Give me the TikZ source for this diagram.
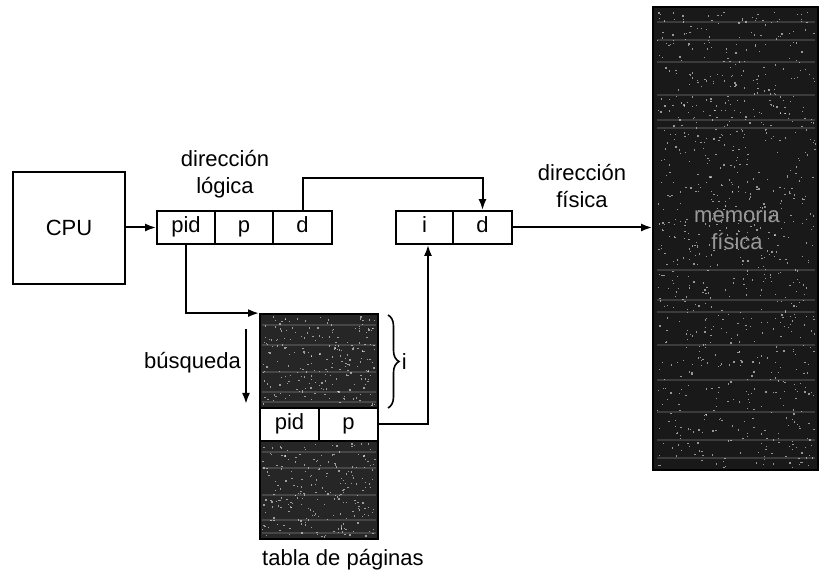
\documentclass[tikz,border=0pt]{standalone}
\usepackage{fontspec}
\setmainfont{Liberation Sans}
\usetikzlibrary{arrows.meta,decorations.pathreplacing}
\tikzset{
  box/.style={draw=black, line width=1.8pt, inner sep=0pt, fill=white},
  cell/.style={box, minimum height=33pt, font=\fontsize{22}{27}\selectfont, text height=15.5pt, text depth=4.5pt},
  darkbox/.style={draw=black, line width=1.8pt, inner sep=0pt, fill=black!85},
  arr/.style={line width=2pt, -{Latex[length=11pt,width=8pt]}},
  lbl/.style={font=\fontsize{22}{27}\selectfont, align=center, inner sep=0pt},
  streak/.style={line width=2.5pt, white, opacity=0.15},
  speck/.style={white, opacity=0.55}
}
\begin{document}
\begin{tikzpicture}[x=1pt,y=-1pt]
\useasboundingbox (0,0) rectangle (820,577);
\pgfmathsetseed{11}
% CPU
\node[box, minimum width=112pt, minimum height=112pt, lbl] (cpu) at (69,228) {CPU};
% logical address
\node[cell, minimum width=58pt] (pid) at (186,227.5) {pid};
\node[cell, minimum width=58pt] (p) at (244,227.5) {p};
\node[cell, minimum width=59pt] (d) at (302.5,227.5) {d};
% physical address
\node[cell, minimum width=57pt] (i) at (424.5,227.5) {i};
\node[cell, minimum width=59pt] (d2) at (482.5,227.5) {d};
% memory
\node[darkbox, fill=black!90, minimum width=165pt, minimum height=463pt] (mem) at (735.5,238.5) {};
\foreach \yy in {22,40,62,95,120,128,270,300,312,345,380,412,440,458}{
  \draw[streak] (657,\yy) -- (815,\yy);
}
\foreach \k in {1,...,900}{
  \pgfmathsetmacro\xx{657+158*rnd}
  \pgfmathsetmacro\yy{11+456*rnd}
  \fill[speck] (\xx,\yy) rectangle ++(1.3,1.3);
}
\node[lbl, text=black!40] (memtxt) at (737,228) {memoria\\física};
% page table
\node[darkbox, minimum width=118pt, minimum height=94pt] (pttop) at (319,361) {};
\node[cell, minimum width=59pt] (pid2) at (289.5,424.5) {pid};
\node[cell, minimum width=59pt] (p2) at (348.5,424.5) {p};
\node[darkbox, minimum width=118pt, minimum height=98pt] (ptbot) at (319,490) {};
\foreach \yy in {325,345,372,392,402}{
  \draw[streak] (262,\yy) -- (376,\yy);
}
\foreach \yy in {452,468,495,520,533}{
  \draw[streak] (262,\yy) -- (376,\yy);
}
\foreach \k in {1,...,220}{
  \pgfmathsetmacro\xx{262+113*rnd}
  \pgfmathsetmacro\yy{316+89*rnd}
  \fill[speck] (\xx,\yy) rectangle ++(1.3,1.3);
}
\foreach \k in {1,...,230}{
  \pgfmathsetmacro\xx{262+113*rnd}
  \pgfmathsetmacro\yy{443+94*rnd}
  \fill[speck] (\xx,\yy) rectangle ++(1.3,1.3);
}
% labels
\node[lbl] (dl) at (225,174) {dirección\\lógica};
\node[lbl] (df) at (582,186) {dirección\\física};
\node[lbl, anchor=east] (bus) at (241,363) {búsqueda};
\node[lbl, anchor=west] (tp) at (262,560) {tabla de páginas};
% connectors
\draw[arr] (cpu.east |- pid.west) -- (pid.west);
\draw[arr] (d.north) -- ++(0,-32) -| (d2.north);
\draw[arr] (d2.east) -- (mem.west |- d2.east);
\draw[arr] (pid.south) |- (pttop.north west);
\coordinate (turn) at (428,424.5);
\draw[arr] (p2.east) -- (turn) -- (turn |- i.south);
\coordinate (bs) at (246,329);
\coordinate (be) at (246,404);
\draw[arr] (bs) -- (be);
% brace
\draw[line width=1.6pt, decorate, decoration={brace, amplitude=11pt}] (388,315) -- (388,408)
  node[midway, right=13pt, lbl] (ilbl) {i};
\end{tikzpicture}
\end{document}
